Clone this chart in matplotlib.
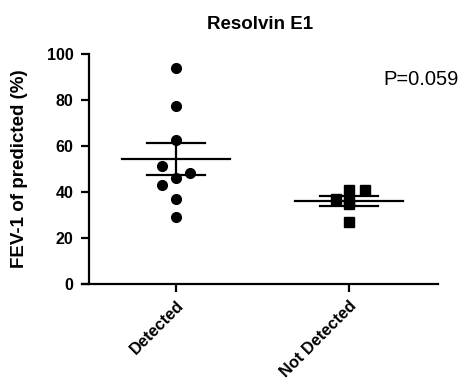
import numpy as np
import matplotlib
matplotlib.use("Agg")
import matplotlib.pyplot as plt

plt.rcParams['font.family'] = ['Liberation Sans', 'DejaVu Sans']

categories = ["Detected", "Not Detected"]
detected = [94, 77.4, 62.6, 51.3, 48.1, 46.2, 43, 37, 29]
not_detected = [40.9, 40.9, 37, 36.5, 35, 27]
title = "Resolvin E1"
ylabel = "FEV-1 of predicted (%)"
p_text = "P=0.059"

# horizontal scatter offsets (layout)
det_off = [0, 0, 0, -0.083, 0.08, 0, -0.083, 0, 0]
nd_off = [0, 0.09, -0.075, 0, 0, 0]

fig = plt.figure(figsize=(4.61, 3.84), dpi=100)
ax = fig.add_axes([82/461, 1-284/384, 356/461, 230/384])

groups = [detected, not_detected]
offs = [det_off, nd_off]
markers = ['o', 's']
msizes = [7, 6.5]
for i, (vals, off) in enumerate(zip(groups, offs)):
    xs = [i + o for o in off]
    ax.plot(xs, vals, linestyle='none', marker=markers[i], markersize=msizes[i],
            color='black', zorder=3)
    v = np.array(vals)
    m = v.mean()
    sem = v.std(ddof=1) / np.sqrt(len(v))
    ax.plot([i - 0.31, i + 0.31], [m, m], color='black', lw=1.6, zorder=4)
    ax.plot([i - 0.17, i + 0.17], [m + sem, m + sem], color='black', lw=1.6, zorder=4)
    ax.plot([i - 0.17, i + 0.17], [m - sem, m - sem], color='black', lw=1.6, zorder=4)
    ax.plot([i, i], [m - sem, m + sem], color='black', lw=1.6, zorder=4)

ax.set_xlim(-0.543, 1.514)
ax.set_ylim(0, 100)
ax.spines['top'].set_visible(False)
ax.spines['right'].set_visible(False)
ax.spines['left'].set_position(('data', -0.503))
for s in ['left', 'bottom']:
    ax.spines[s].set_linewidth(1.6)
ax.set_yticks([0, 20, 40, 60, 80, 100])
ax.set_xticks([0, 1])
ax.set_xticklabels(categories, rotation=45, ha='right', rotation_mode='anchor',
                   fontweight='bold', fontsize=11.8)
for lab in ax.get_yticklabels():
    lab.set_fontweight('bold')
    lab.set_fontsize(11.5)
ax.tick_params(axis='both', direction='out', length=6, width=1.6)
ax.tick_params(axis='y', pad=5)
ax.tick_params(axis='x', pad=4)

ax.set_ylabel(ylabel, fontweight='bold', fontsize=13.5)
ax.yaxis.set_label_coords(-0.152, 0.5)
ax.text(0.5, 1.13, title, transform=ax.transAxes, ha='center', va='center',
        fontweight='bold', fontsize=13.5)
ax.text(1.197, 88.9, p_text, ha='left', va='center', fontsize=14.5)

fig.savefig("out.png", dpi=100)
